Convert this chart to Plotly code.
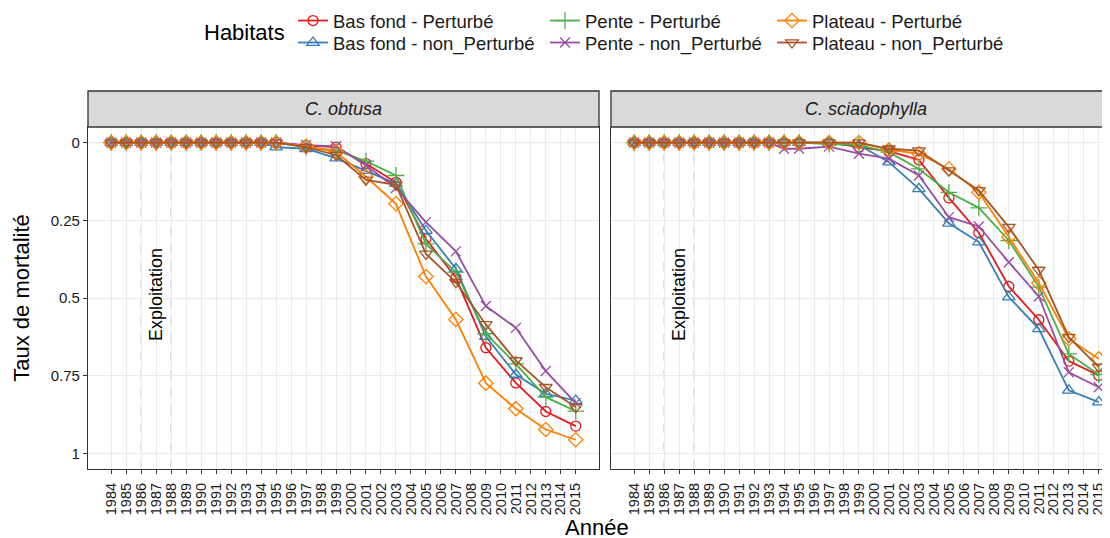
import plotly.graph_objects as go

# years with observations
years = [1984, 1985, 1986, 1987, 1988, 1989, 1990, 1991, 1992, 1993, 1994, 1995,
         1997, 1999, 2001, 2003, 2005, 2007, 2009, 2011, 2013, 2015]
tick_years = [1984, 1985, 1986, 1987, 1988, 1989, 1990, 1991, 1992, 1993, 1994, 1995,
              1996, 1997, 1998, 1999, 2000, 2001, 2002, 2003, 2004, 2005, 2006, 2007,
              2008, 2009, 2010, 2011, 2012, 2013, 2014, 2015]
exploitation_years = [1986, 1988]

species = ["C. obtusa", "C. sciadophylla"]
habitats = ["Bas fond - Perturbé", "Bas fond - non_Perturbé",
            "Pente - Perturbé", "Pente - non_Perturbé",
            "Plateau - Perturbé", "Plateau - non_Perturbé"]

# C. obtusa
obt_bf_p = [0, 0, 0, 0, 0, 0, 0, 0, 0, 0, 0, 0,
            0.01, 0.015, 0.068, 0.128, 0.31, 0.435, 0.66, 0.773, 0.865, 0.912]
obt_bf_np = [0, 0, 0, 0, 0, 0, 0, 0, 0, 0, 0, 0.015,
             0.02, 0.05, 0.09, 0.132, 0.283, 0.406, 0.624, 0.746, 0.808, 0.83]
obt_pe_p = [0, 0, 0, 0, 0, 0, 0, 0, 0, 0, 0, 0,
            0.015, 0.025, 0.06, 0.106, 0.326, 0.417, 0.615, 0.712, 0.819, 0.864]
obt_pe_np = [0, 0, 0, 0, 0, 0, 0, 0, 0, 0, 0, 0,
             0.008, 0.012, 0.074, 0.146, 0.256, 0.35, 0.526, 0.596, 0.735, 0.838]
obt_pl_p = [0, 0, 0, 0, 0, 0, 0, 0, 0, 0, 0, 0,
            0.012, 0.03, 0.11, 0.197, 0.431, 0.569, 0.774, 0.856, 0.923, 0.956]
obt_pl_np = [0, 0, 0, 0, 0, 0, 0, 0, 0, 0, 0, 0,
             0.015, 0.04, 0.12, 0.136, 0.358, 0.449, 0.585, 0.701, 0.787, 0.851]

# C. sciadophylla
sci_bf_p = [0, 0, 0, 0, 0, 0, 0, 0, 0, 0, 0, 0,
            0, 0.015, 0.028, 0.056, 0.178, 0.29, 0.463, 0.57, 0.703, 0.749]
sci_bf_np = [0, 0, 0, 0, 0, 0, 0, 0, 0, 0, 0, 0,
             0, 0.008, 0.063, 0.149, 0.26, 0.32, 0.497, 0.599, 0.797, 0.835]
sci_pe_p = [0, 0, 0, 0, 0, 0, 0, 0, 0, 0, 0, 0,
            0.005, 0.008, 0.031, 0.085, 0.16, 0.21, 0.315, 0.465, 0.68, 0.746]
sci_pe_np = [0, 0, 0, 0, 0, 0, 0, 0, 0, 0, 0.02, 0.02,
             0.013, 0.036, 0.052, 0.106, 0.24, 0.27, 0.385, 0.495, 0.739, 0.787]
sci_pl_p = [0, 0, 0, 0, 0, 0, 0, 0, 0, 0, 0, 0,
            0, 0, 0.023, 0.036, 0.085, 0.16, 0.304, 0.452, 0.631, 0.696]
sci_pl_np = [0, 0, 0, 0, 0, 0, 0, 0, 0, 0, 0, 0,
             0, 0, 0.02, 0.026, 0.09, 0.154, 0.272, 0.41, 0.626, 0.722]

data = {
    "C. obtusa": [obt_bf_p, obt_bf_np, obt_pe_p, obt_pe_np, obt_pl_p, obt_pl_np],
    "C. sciadophylla": [sci_bf_p, sci_bf_np, sci_pe_p, sci_pe_np, sci_pl_p, sci_pl_np],
}

colors = ["#E41A1C", "#377EB8", "#4DAF4A", "#984EA3", "#FF7F00", "#A65628"]
symbols = ["circle-open", "triangle-up-open", "cross-thin-open",
           "x-thin-open", "diamond-open", "triangle-down-open"]
msizes = [10, 11, 12, 10, 11, 11]

FONT = "Liberation Sans, Arial, sans-serif"
border = "#333333"
grid = "#EBEBEB"

# one small legend per entry so the 3 x 2 grid can be laid out like ggplot's
legend_ids = ["legend", "legend2", "legend3", "legend4", "legend5", "legend6"]
legend_left = [293, 293, 545, 545, 772, 772]   # page px
legend_top = [2, 24, 2, 24, 2, 24]             # page px

fig = go.Figure()
for k, sp in enumerate(species):
    xa = "x" if k == 0 else "x2"
    ya = "y" if k == 0 else "y2"
    for i, hab in enumerate(habitats):
        fig.add_trace(go.Scatter(
            x=years, y=data[sp][i], mode="lines+markers", name=hab,
            xaxis=xa, yaxis=ya, legend=legend_ids[i], legendgroup=hab,
            showlegend=(k == 0),
            line=dict(color=colors[i], width=1.8),
            marker=dict(symbol=symbols[i], size=msizes[i], color=colors[i],
                        line=dict(width=1.3, color=colors[i])),
        ))

# page has an 8px body margin, so the figure is drawn 8px in from the corner
# plot area (page pixels): 88 -> 1110 wide, 127 -> 469 tall
H_AREA = 342.0
def py(p):
    return (469 - p) / H_AREA

def px(p):
    return (p - 88) / 1022.0

shapes = []
annotations = []
for k, sp in enumerate(species):
    xa = "x" if k == 0 else "x2"
    ya = "y" if k == 0 else "y2"
    for yr in exploitation_years:
        shapes.append(dict(type="line", xref=xa, yref=ya + " domain", x0=yr, x1=yr,
                           y0=0, y1=1, line=dict(color="#A8A8A8", width=1, dash="dash"),
                           layer="below"))
    annotations.append(dict(x=sum(exploitation_years) / 2, y=0.49, xref=xa, yref=ya,
                            text="Exploitation", textangle=-90, showarrow=False,
                            xanchor="center", yanchor="middle",
                            font=dict(family=FONT, size=18, color="#000000")))
    # facet strip
    x1 = 1 if k == 0 else 1.03
    shapes.append(dict(type="rect", xref=xa + " domain", yref="paper", x0=0, x1=x1,
                       y0=1.0, y1=py(91), fillcolor="#D9D9D9",
                       line=dict(color=border, width=1.3)))
    annotations.append(dict(x=0.5 if k == 0 else 0.512, y=py(108.5), xref=xa + " domain",
                            yref="paper", text="<i>" + sp + "</i>", showarrow=False,
                            xanchor="center", yanchor="middle",
                            font=dict(family=FONT, size=18, color="#1A1A1A")))

annotations.append(dict(x=px(244.4), y=py(33), xref="paper", yref="paper",
                        text="Habitats", showarrow=False, xanchor="center",
                        yanchor="middle",
                        font=dict(family=FONT, size=22, color="#000000")))
annotations.append(dict(x=px(597), y=py(527), xref="paper", yref="paper",
                        text="Année", showarrow=False, xanchor="center",
                        yanchor="middle",
                        font=dict(family=FONT, size=22, color="#000000")))

xcommon = dict(tickvals=tick_years, tickangle=-90, showgrid=True, gridcolor=grid,
               gridwidth=1, zeroline=False, ticks="outside", ticklen=4,
               tickcolor=border, linecolor=border, linewidth=1.3, showline=True,
               ticklabelstandoff=3,
               tickfont=dict(family=FONT, size=14.5, color="#1A1A1A"))

legends = {}
for i, lid in enumerate(legend_ids):
    legends[lid] = dict(orientation="v", xanchor="left", yanchor="top",
                        x=px(legend_left[i]), y=py(legend_top[i]),
                        bgcolor="rgba(0,0,0,0)",
                        font=dict(family=FONT, size=18.5, color="#1A1A1A"))

fig.update_layout(
    width=1102, height=530,
    margin=dict(l=80, r=0, t=119, b=69, autoexpand=False),
    paper_bgcolor="white", plot_bgcolor="white",
    font=dict(family=FONT, color="#1A1A1A"),
    xaxis=dict(domain=[0, 0.5], range=[1982.45, 2016.55], mirror=True, **xcommon),
    xaxis2=dict(domain=[0.5117, 1], range=[1982.45, 2015.75], anchor="y2", **xcommon),
    yaxis=dict(range=[1.05, -0.05], tickvals=[0, 0.25, 0.5, 0.75, 1],
               ticktext=["0", "0.25", "0.5", "0.75", "1"], showgrid=True,
               gridcolor=grid, zeroline=False, ticks="outside", ticklen=4,
               tickcolor=border, showline=True, mirror=True, linecolor=border,
               linewidth=1.3, tickfont=dict(family=FONT, size=15, color="#1A1A1A"),
               title=dict(text="Taux de mortalité", standoff=14,
                          font=dict(family=FONT, size=22, color="#000000"))),
    yaxis2=dict(range=[1.05, -0.05], anchor="x2", tickvals=[0, 0.25, 0.5, 0.75, 1],
                showticklabels=False, showgrid=True, gridcolor=grid, zeroline=False,
                ticks="", showline=True, linecolor=border, linewidth=1.3),
    shapes=shapes,
    annotations=annotations,
    **legends,
)

fig.write_html("out.html")
